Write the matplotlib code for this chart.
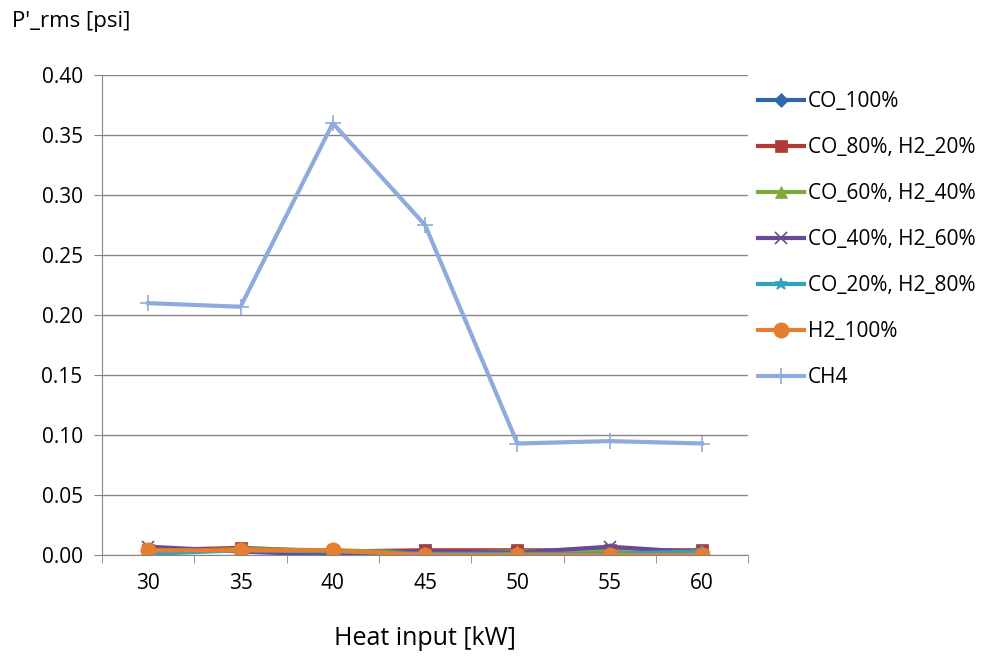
import matplotlib
matplotlib.use("Agg")
import matplotlib.pyplot as plt
import numpy as np

plt.rcParams['font.family'] = ['Open Sans', 'DejaVu Sans']

heat_input = ["30", "35", "40", "45", "50", "55", "60"]
co_100 = [0.004, 0.005, 0.003, 0.003, 0.003, 0.004, 0.003]
co80_h20 = [0.004, 0.006, 0.003, 0.004, 0.004, 0.004, 0.004]
co60_h40 = [0.003, 0.005, 0.004, 0.002, 0.003, 0.003, 0.002]
co40_h60 = [0.007, 0.003, 0.000, 0.003, 0.002, 0.007, 0.002]
co20_h80 = [0.001, 0.004, 0.003, 0.001, 0.001, 0.001, 0.003]
h2_100 = [0.004, 0.004, 0.004, 0.000, 0.000, 0.000, 0.000]
ch4 = [0.210, 0.207, 0.360, 0.275, 0.093, 0.095, 0.093]

series = [
    ("CO_100%", co_100, '#2F66A8', 'D', 7),
    ("CO_80%, H2_20%", co80_h20, '#B03A36', 's', 9),
    ("CO_60%, H2_40%", co60_h40, '#7DAA3A', '^', 9),
    ("CO_40%, H2_60%", co40_h60, '#6A4A96', 'x', 9),
    ("CO_20%, H2_80%", co20_h80, '#2FA3BD', '*', 9),
    ("H2_100%", h2_100, '#E67E30', 'o', 11),
    ("CH4", ch4, '#8FAADC', '+', 11),
]

fig = plt.figure(figsize=(9.91, 6.6), dpi=100)
ax = fig.add_axes([0.103, 0.159, 0.652, 0.727])
x = np.arange(len(heat_input))
for name, vals, col, mk, ms in series:
    ax.plot(x, vals, color=col, marker=mk, markersize=ms, linewidth=3,
            label=name, markeredgewidth=1.2 if mk in ('x', '+', '*') else 0.5,
            markeredgecolor=col)

ax.set_xlim(-0.5, 6.5)
ax.set_ylim(0, 0.40)
yt = np.arange(0, 0.401, 0.05)
ax.set_yticks(yt)
ax.set_yticklabels([f"{v:.2f}" for v in yt], fontsize=15)
ax.set_xticks(x)
ax.set_xticklabels(heat_input, fontsize=15)
ax.set_xticks(np.arange(-0.5, 6.6, 1.0), minor=True)
ax.tick_params(axis='x', which='major', length=0, pad=13)
ax.tick_params(axis='x', which='minor', length=6, color='#868686', direction='out')
ax.tick_params(axis='y', length=6, color='#868686', direction='out', pad=8)
ax.yaxis.grid(True, color='#868686', linewidth=1)
ax.set_axisbelow(True)
for s in ['top', 'right']:
    ax.spines[s].set_visible(False)
ax.spines['left'].set_color('#868686')
ax.spines['bottom'].set_color('#868686')

fig.text(0.012, 0.968, "P'_rms [psi]", fontsize=16, ha='left', va='center')
ax.set_xlabel("Heat input [kW]", fontsize=18, labelpad=23)

leg = fig.legend(loc='upper left', bbox_to_anchor=(0.765, 0.862), frameon=False,
                 fontsize=15, labelspacing=1.2, handlelength=2.2, handletextpad=0.2,
                 borderaxespad=0, borderpad=0)
fig.savefig("out.png", dpi=100)
